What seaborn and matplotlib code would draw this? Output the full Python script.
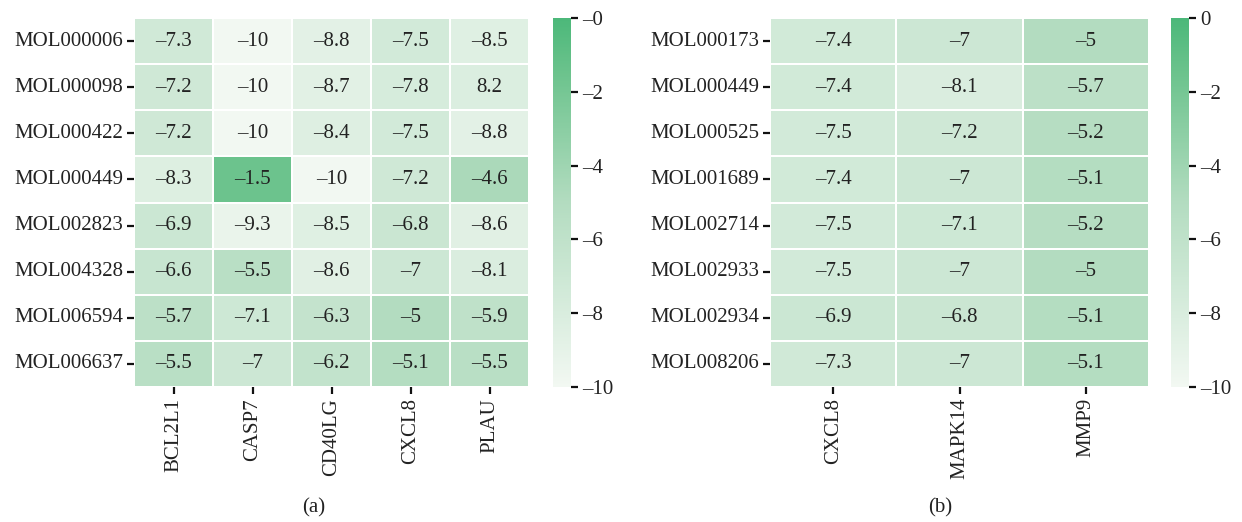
import numpy as np
import pandas as pd
import matplotlib
matplotlib.use("Agg")
import matplotlib.pyplot as plt
from matplotlib.colors import LinearSegmentedColormap
import seaborn as sns

plt.rcParams["font.family"] = ["Liberation Serif", "DejaVu Serif"]

# (a) docking scores
mols_a = ["MOL000006", "MOL000098", "MOL000422", "MOL000449",
          "MOL002823", "MOL004328", "MOL006594", "MOL006637"]
targets_a = ["BCL2L1", "CASP7", "CD40LG", "CXCL8", "PLAU"]
scores_a = [
    [-7.3, -10, -8.8, -7.5, -8.5],
    [-7.2, -10, -8.7, -7.8, 8.2],
    [-7.2, -10, -8.4, -7.5, -8.8],
    [-8.3, -1.5, -10, -7.2, -4.6],
    [-6.9, -9.3, -8.5, -6.8, -8.6],
    [-6.6, -5.5, -8.6, -7, -8.1],
    [-5.7, -7.1, -6.3, -5, -5.9],
    [-5.5, -7, -6.2, -5.1, -5.5],
]

# (b) docking scores
mols_b = ["MOL000173", "MOL000449", "MOL000525", "MOL001689",
          "MOL002714", "MOL002933", "MOL002934", "MOL008206"]
targets_b = ["CXCL8", "MAPK14", "MMP9"]
scores_b = [
    [-7.4, -7, -5],
    [-7.4, -8.1, -5.7],
    [-7.5, -7.2, -5.2],
    [-7.4, -7, -5.1],
    [-7.5, -7.1, -5.2],
    [-7.5, -7, -5],
    [-6.9, -6.8, -5.1],
    [-7.3, -7, -5.1],
]

cbar_ticks = [0, -2, -4, -6, -8, -10]
cbar_labels_a = ["\u20130", "\u20132", "\u20134", "\u20136", "\u20138", "\u201310"]
cbar_labels_b = ["0", "\u20132", "\u20134", "\u20136", "\u20138", "\u201310"]

green = LinearSegmentedColormap.from_list(
    "green_scale",
    [(0.0, (242/255, 248/255, 242/255)),
     (0.5, (179/255, 220/255, 192/255)),
     (0.85, (108/255, 195/255, 141/255)),
     (1.0, (76/255, 184/255, 122/255))],
)


def fmt_label(v):
    return f"{v:g}".replace("-", "\u2013")


fig = plt.figure(figsize=(12.42, 5.22), dpi=100)
W, H = 1242, 522


def px_axes(x0, x1, y0, y1):
    return fig.add_axes([x0 / W, 1 - y1 / H, (x1 - x0) / W, (y1 - y0) / H])


panels = [
    (mols_a, targets_a, scores_a, (134, 529), (553, 571), cbar_labels_a, "(a)", 314),
    (mols_b, targets_b, scores_b, (770, 1149), (1171, 1189), cbar_labels_b, "(b)", 940),
]

for mols, targets, scores, hx, cx, clabels, tag, tag_x in panels:
    df = pd.DataFrame(scores, index=mols, columns=targets)
    labels = df.map(fmt_label).values
    ax = px_axes(hx[0], hx[1], 18, 387)
    cax = px_axes(cx[0], cx[1], 18, 387)
    # colour encodes score magnitude on the negative scale
    sns.heatmap(-df.abs(), ax=ax, cbar_ax=cax, cmap=green, vmin=-10, vmax=0,
                annot=labels, fmt="", linewidths=1.2, linecolor="white",
                annot_kws={"fontsize": 15, "color": "#222222"})
    ax.tick_params(axis="both", length=5, width=1.6, color="#111111",
                   labelsize=15, labelcolor="#222222", pad=3)
    ax.set_yticklabels(mols, rotation=0)
    ax.set_xticklabels(targets, rotation=90)
    ax.set_xlabel("")
    ax.set_ylabel("")
    cax.set_yticks(cbar_ticks)
    cax.set_yticklabels(clabels)
    cax.tick_params(length=5, width=1.6, color="#111111", labelsize=15,
                    labelcolor="#222222", pad=3)
    fig.text(tag_x / W, 1 - 508 / H, tag, ha="center", va="center",
             fontsize=15, color="#222222")

fig.savefig("out.png", dpi=100)
